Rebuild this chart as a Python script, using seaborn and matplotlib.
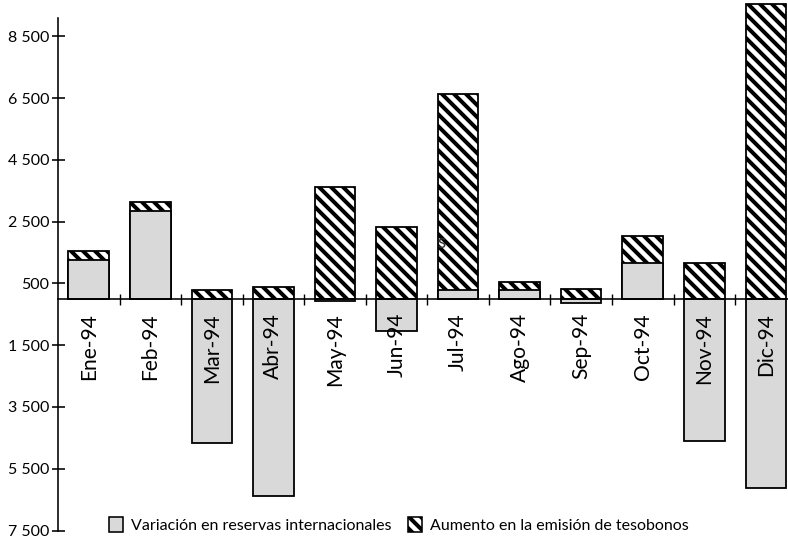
import matplotlib
matplotlib.use("Agg")
import matplotlib.pyplot as plt
from matplotlib.patches import Patch
import seaborn as sns
import pandas as pd

# ---- data (millones de dólares) ----
meses = ["Ene-94", "Feb-94", "Mar-94", "Abr-94", "May-94", "Jun-94",
         "Jul-94", "Ago-94", "Sep-94", "Oct-94", "Nov-94", "Dic-94"]
reservas = [1250, 2850, -4650, -6380, -80, -1030, 280, 280, -130, 1150, -4590, -6130]
tesobonos = [290, 290, 290, 390, 3630, 2340, 6350, 270, 330, 890, 1150, 9540]
ytick_vals = [8500, 6500, 4500, 2500, 500, -1500, -3500, -5500, -7500]
ytick_labels = ["8 500", "6 500", "4 500", "2 500", "500",
                "1 500", "3 500", "5 500", "7 500"]
leyenda = ["Variación en reservas internacionales",
           "Aumento en la emisión de tesobonos"]

plt.rcParams["font.family"] = ["Lato", "DejaVu Sans"]
plt.rcParams["hatch.linewidth"] = 4.0
plt.rcParams["hatch.color"] = "black"

DPI = 72
W, H = 788, 546
fig = plt.figure(figsize=(W / DPI, H / DPI), dpi=DPI)
ax_bottom_px = 533.6
ax = fig.add_axes([58 / W, 1 - ax_bottom_px / H, 730 / W, ax_bottom_px / H])

df = pd.DataFrame({"mes": meses, "reservas": reservas, "tesobonos": tesobonos})
df["apilado"] = df["reservas"].clip(lower=0) + df["tesobonos"]

gris = "#d9d9d9"
rayas = "\\\\"
sns.barplot(data=df, x="mes", y="apilado", color="white", saturation=1,
            edgecolor="black", linewidth=1.8, hatch=rayas, width=0.66,
            errorbar=None, ax=ax)
sns.barplot(data=df, x="mes", y="reservas", color=gris, saturation=1,
            edgecolor="black", linewidth=1.8, width=0.66,
            errorbar=None, ax=ax)

ax.set_xlim(-0.5, 11.36)
ax.set_ylim(-7600, 9680)

for s in ["top", "right"]:
    ax.spines[s].set_visible(False)
ax.spines["bottom"].set_position(("data", 0))
ax.spines["left"].set_bounds(-7520, 9090)
ax.spines["left"].set_linewidth(1.6)
ax.spines["bottom"].set_linewidth(1.6)

ax.set_yticks(ytick_vals, ytick_labels)
ax.tick_params(axis="y", direction="inout", length=13, width=1.6,
               labelsize=16, pad=2)

ax.set_xticks(range(len(meses)), meses, rotation=90)
ax.tick_params(axis="x", which="major", length=0, labelsize=21, pad=14)
ax.set_xticks([i + 0.5 for i in range(len(meses) - 1)], minor=True)
ax.tick_params(axis="x", which="minor", direction="inout", length=11, width=1.4)
ax.set_xlabel("")
ax.set_ylabel("")

handles = [Patch(facecolor=gris, edgecolor="black", linewidth=1.6),
           Patch(facecolor="white", edgecolor="black", linewidth=1.6, hatch=rayas)]
ax.legend(handles, leyenda, ncol=2, frameon=False, loc="center",
          bbox_to_anchor=(0.506, 1 - 525 / H), bbox_transform=fig.transFigure,
          handlelength=0.9, handleheight=1.1, columnspacing=1.0,
          handletextpad=0.5, fontsize=16)

fig.text(441 / W, 1 - 243 / H, "s", fontsize=19, ha="center", va="center",
         color="#333333")

fig.savefig("out.png", dpi=DPI)
